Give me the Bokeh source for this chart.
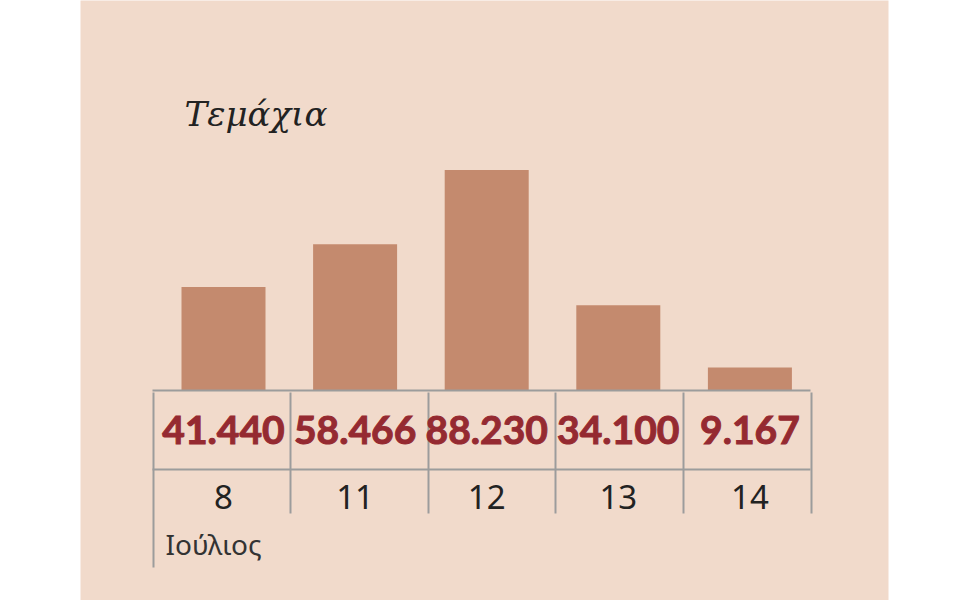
from bokeh.plotting import figure
from bokeh.models import Range1d, ColumnDataSource
from bokeh.core.properties import value
from bokeh.embed import file_html
from bokeh.resources import INLINE

# ---- data ----
days = ["8", "11", "12", "13", "14"]
month_label = "Ιούλιος"
pieces = [41440, 58466, 88230, 34100, 9167]
piece_labels = ["41.440", "58.466", "88.230", "34.100", "9.167"]
title_text = "Τεμάχια"

# ---- layout constants (screen pixels) ----
BG = "#F1DACB"
BAR = "#C48A6E"
GRID = "#9C9C9C"
VAL = "#952A31"
INK = "#222222"

FRAME_L, FRAME_W = 80, 808          # beige panel
FIG_W, FIG_H = 960, 600
C0, STEP = 223, 131.6               # screen x of first column centre and spacing
BASE_Y = 390                        # screen y of baseline
UNITS_PER_PX = 400.0

def sx(px):   # screen x -> data x
    return (px - C0) / STEP

def sy(py):   # screen y -> data y
    return (BASE_Y - py) * UNITS_PER_PX

x0 = sx(FRAME_L)
x1 = sx(FRAME_L + FRAME_W)
y1 = sy(0)
y0 = sy(FIG_H)

p = figure(width=FIG_W, height=FIG_H, output_backend="svg", toolbar_location=None,
           x_range=Range1d(x0, x1), y_range=Range1d(y0, y1),
           min_border_left=FRAME_L, min_border_right=FIG_W - FRAME_L - FRAME_W,
           min_border_top=0, min_border_bottom=0)
p.axis.visible = False
p.grid.visible = False
p.outline_line_color = None
p.background_fill_color = BG
p.border_fill_color = "white"

xs = list(range(len(days)))
src = ColumnDataSource(dict(x=xs, top=pieces, lab=piece_labels, day=days))

# bars
p.vbar(x="x", top="top", bottom=0, width=84 / STEP, source=src,
       fill_color=BAR, line_color=None)

# table lines
col_edges_px = [153, 290, 428, 555, 683, 811]
left_x, right_x = sx(152), sx(810)
p.segment(x0=[left_x, left_x], x1=[right_x, right_x],
          y0=[sy(390), sy(469)], y1=[sy(390), sy(469)],
          line_color=GRID, line_width=2)
vx = [sx(e) for e in col_edges_px]
vbot = [sy(567)] + [sy(513)] * (len(col_edges_px) - 1)
p.segment(x0=vx, x1=vx, y0=[sy(392)] * len(vx), y1=vbot,
          line_color=GRID, line_width=2)

# value labels
p.text(x="x", y=sy(429), text="lab", source=src,
       text_font=value("Lato"), text_font_style="bold",
       text_font_size="39px", text_color=VAL, text_outline_color=VAL,
       text_align="center", text_baseline="alphabetic")

# day labels
p.text(x="x", y=sy(496), text="day", source=src,
       text_font=value("Noto Sans"), text_font_size="33px", text_color=INK,
       text_align="center", text_baseline="alphabetic")

# month label
p.text(x=[sx(165)], y=[sy(543)], text=[month_label],
       text_font=value("Noto Sans"), text_font_size="28px", text_color="#333333",
       text_align="left", text_baseline="alphabetic")

# title
p.text(x=[sx(184)], y=[sy(113)], text=[title_text],
       text_font=value("DejaVu Serif"), text_font_style="italic",
       text_font_size="34px", text_color=INK,
       text_align="left", text_baseline="alphabetic")

open("out.html", "w").write(file_html(p, INLINE))
